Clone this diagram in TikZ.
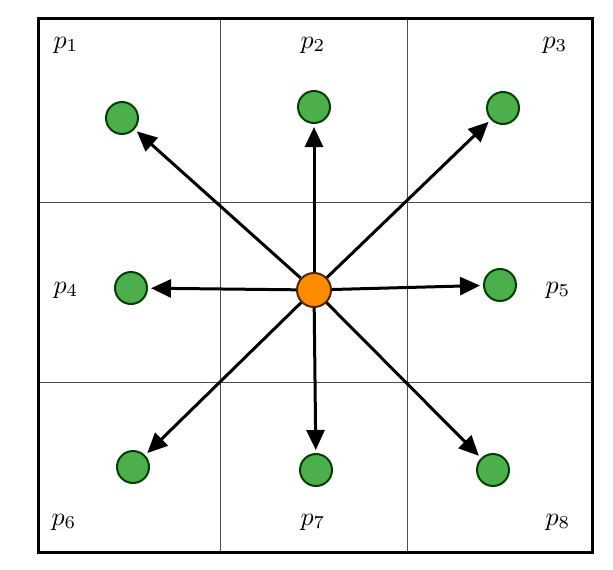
\documentclass[tikz,border=0pt]{standalone}
\usetikzlibrary{arrows.meta}
\begin{document}
\begin{tikzpicture}[x=1pt,y=-1pt,
  gnode/.style={circle,draw=black!75!green,line width=2pt,fill=green!55!black!70!white,minimum size=32pt,inner sep=0pt},
  onode/.style={circle,draw=black!70!orange,line width=2pt,fill=orange!90!yellow,minimum size=34pt,inner sep=0pt},
  arr/.style={-{Triangle[length=20pt,width=18pt]},line width=3pt,shorten >=3pt},
  lbl/.style={transform shape,scale=2.6}]
\useasboundingbox (0,0) rectangle (613,570);
\draw[line width=1pt,black!70] (220,18) -- (220,552) (407,18) -- (407,552) (38,202) -- (592,202) (38,382) -- (592,382);
\draw[line width=3pt] (38,18) rectangle (592,552);
\node[onode] (c) at (314,290) {};
\node[gnode] (a1) at (122,118) {};
\node[gnode] (a2) at (314,107) {};
\node[gnode] (a3) at (503,108) {};
\node[gnode] (a4) at (131,288) {};
\node[gnode] (a5) at (500,285) {};
\node[gnode] (a6) at (133,467) {};
\node[gnode] (a7) at (316,470) {};
\node[gnode] (a8) at (493,470) {};
\foreach \i in {1,...,8} \draw[arr] (c) -- (a\i);
\node[lbl] (l1) at (66,45) {$p_1$};
\node[lbl] (l2) at (313,45) {$p_2$};
\node[lbl] (l3) at (555,45) {$p_3$};
\node[lbl] (l4) at (66,290) {$p_4$};
\node[lbl] (l5) at (558,290) {$p_5$};
\node[lbl] (l6) at (64,522) {$p_6$};
\node[lbl] (l7) at (313,522) {$p_7$};
\node[lbl] (l8) at (558,522) {$p_8$};
\end{tikzpicture}
\end{document}
